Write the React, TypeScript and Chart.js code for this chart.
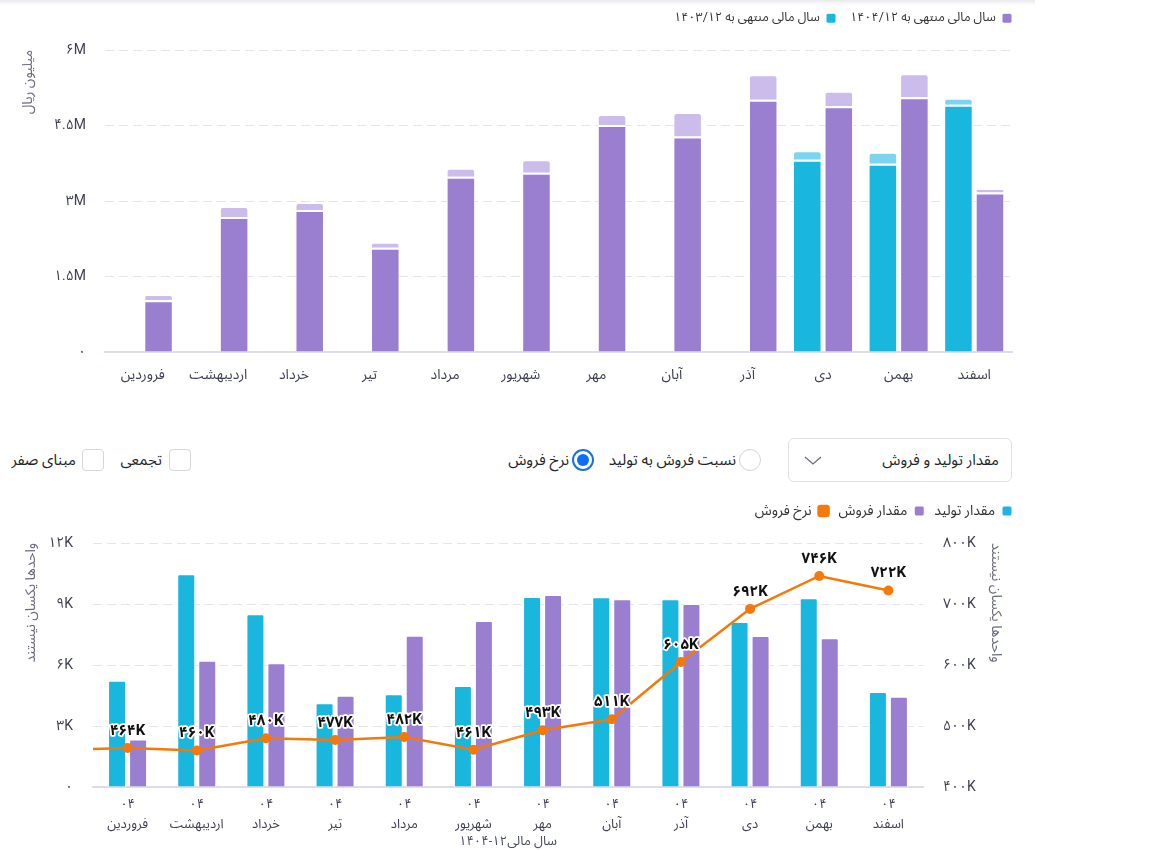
import React, { useEffect, useRef } from 'react';
import { Chart, registerables } from 'chart.js';

Chart.register(...registerables);

// ---------- data ----------
const months = ['فروردین', 'اردیبهشت', 'خرداد', 'تیر', 'مرداد', 'شهریور', 'مهر', 'آبان', 'آذر', 'دی', 'بهمن', 'اسفند'];
const yearTag = '04';

const legend1404 = 'سال مالی منتهی به ۱۴۰۴/۱۲';
const legend1403 = 'سال مالی منتهی به ۱۴۰۳/۱۲';

// top chart (million rials) – lower segment and upper (lighter) segment
const fy1404Main = [1.03e6, 2.68e6, 2.82e6, 2.07e6, 3.48e6, 3.56e6, 4.51e6, 4.28e6, 5.01e6, 4.88e6, 5.06e6, 3.17e6];
const fy1404Extra = [0.1e6, 0.2e6, 0.14e6, 0.1e6, 0.16e6, 0.25e6, 0.2e6, 0.47e6, 0.49e6, 0.29e6, 0.46e6, 0.07e6];
const fy1403Main = [null, null, null, null, null, null, null, null, null, 3.82e6, 3.74e6, 4.91e6];
const fy1403Extra = [null, null, null, null, null, null, null, null, null, 0.17e6, 0.22e6, 0.12e6];

// bottom chart
const productionLabel = 'مقدار تولید';
const salesLabel = 'مقدار فروش';
const rateLabel = 'نرخ فروش';
const production = [5230, 10460, 8490, 4120, 4560, 4970, 9350, 9330, 9230, 8120, 9280, 4670];
const sales = [2330, 6210, 6080, 4490, 7440, 8170, 9440, 9230, 9000, 7430, 7310, 4440];
const rate = [464000, 460000, 480000, 477000, 482000, 461000, 493000, 511000, 605000, 692000, 746000, 722000];

const topAxisTitle = 'میلیون ریال';
const unitsTitle = 'واحدها یکسان نیستند';
const xTitle = 'سال مالی۱۲-۱۴۰۴';

// ---------- styles ----------
const FONT = "Roboto, 'Noto Sans Arabic', 'DejaVu Sans', sans-serif";
const PURPLE = '#9a7fd1';
const PURPLE_LIGHT = '#cbbcec';
const CYAN = '#19b6de';
const CYAN_LIGHT = '#7bd5ee';
const ORANGE = '#f5780a';
const GRID = '#e6e3ef';
const AXIS = '#dedbeb';
const TICK = '#3d3f52';

const faDigits = '۰۱۲۳۴۵۶۷۸۹';
const toFa = (s: string) => s.replace(/\d/g, (d) => faDigits[Number(d)]);
const fmtM = (v: number) => (v === 0 ? '۰' : toFa(String(v / 1e6)) + 'M');
const fmtK = (v: number) => (v === 0 ? '۰' : toFa(String(v / 1000)) + 'K');

Chart.defaults.font.family = FONT;

const legendHeight = (h: number) => ({
  id: 'legendHeight',
  beforeLayout(chart: any) {
    const lg = chart.legend;
    if (lg && !lg._patched) {
      const orig = lg.fit.bind(lg);
      lg.fit = function () {
        orig();
        this.height = h;
      };
      lg._patched = true;
    }
  },
});

const legendShift = (dx: number, dy: number) => ({
  id: 'legendShift',
  afterLayout(chart: any) {
    const lg = chart.legend;
    if (!lg) return;
    lg.left += dx;
    lg.right += dx;
    lg.top += dy;
    lg.bottom += dy;
  },
});

const lineLabels = {
  id: 'lineLabels',
  afterDatasetsDraw(chart: any) {
    const meta = chart.getDatasetMeta(2);
    const ctx = chart.ctx;
    const pts = meta.data;
    if (!pts || !pts.length) return;
    ctx.save();
    // lead-in segment from axis edge to first point
    ctx.strokeStyle = ORANGE;
    ctx.lineWidth = 2.5;
    ctx.beginPath();
    ctx.moveTo(chart.chartArea.left, pts[0].y + 1);
    ctx.lineTo(pts[0].x, pts[0].y);
    ctx.stroke();
    ctx.font = `bold 15px ${FONT}`;
    ctx.textAlign = 'center';
    ctx.textBaseline = 'middle';
    ctx.lineJoin = 'round';
    pts.forEach((pt: any, i: number) => {
      const t = fmtK(rate[i]);
      ctx.lineWidth = 3.5;
      ctx.strokeStyle = '#fff';
      ctx.strokeText(t, pt.x, pt.y - 17);
      ctx.fillStyle = '#111';
      ctx.fillText(t, pt.x, pt.y - 17);
    });
    ctx.restore();
  },
};

function TopChart() {
  const ref = useRef<HTMLCanvasElement>(null);
  useEffect(() => {
    const chart = new Chart(ref.current!, {
      type: 'bar',
      data: {
        labels: months,
        datasets: [
          {
            label: legend1403,
            data: fy1403Main,
            stack: 'a',
            backgroundColor: CYAN,
            borderColor: '#fff',
            borderWidth: { top: 2, left: 1, right: 1, bottom: 0 },
            borderRadius: 0,
          },
          {
            label: legend1403 + ' ',
            data: fy1403Extra,
            stack: 'a',
            backgroundColor: CYAN_LIGHT,
            borderColor: '#fff',
            borderWidth: { top: 1, left: 1, right: 1, bottom: 0 },
            borderRadius: { topLeft: 3, topRight: 3, bottomLeft: 0, bottomRight: 0 },
          },
          {
            label: legend1404,
            data: fy1404Main,
            stack: 'b',
            backgroundColor: PURPLE,
            borderColor: '#fff',
            borderWidth: { top: 2, left: 1, right: 1, bottom: 0 },
            borderRadius: 0,
          },
          {
            label: legend1404 + ' ',
            data: fy1404Extra,
            stack: 'b',
            backgroundColor: PURPLE_LIGHT,
            borderColor: '#fff',
            borderWidth: { top: 1, left: 1, right: 1, bottom: 0 },
            borderRadius: { topLeft: 3, topRight: 3, bottomLeft: 0, bottomRight: 0 },
          },
        ] as any,
      },
      options: {
        animation: false,
        responsive: false,
        devicePixelRatio: 1,
        datasets: { bar: { categoryPercentage: 0.834, barPercentage: 0.905 } } as any,
        layout: { padding: { left: 0, right: 18, top: 0, bottom: 0 } },
        plugins: {
          tooltip: { enabled: false },
          legend: {
            position: 'top',
            align: 'start',
            rtl: true,
            reverse: true,
            labels: {
              filter: (item: any) => item.datasetIndex === 0 || item.datasetIndex === 2,
              boxWidth: 10,
              boxHeight: 10,
              useBorderRadius: true,
              borderRadius: 2,
              padding: 14,
              color: '#333',
              font: { size: 12.5, family: FONT },
            } as any,
          },
        },
        scales: {
          x: {
            stacked: true,
            grid: { display: false },
            border: { color: AXIS, width: 2 },
            ticks: { color: TICK, padding: 7, font: { size: 14, family: FONT } },
            afterFit: (s: any) => {
              s.height = 40;
            },
          },
          y: {
            stacked: true,
            min: 0,
            max: 6e6,
            grid: { color: GRID, drawTicks: false },
            border: { display: false, dash: [9, 5] },
            ticks: {
              stepSize: 1.5e6,
              padding: 19,
              color: TICK,
              font: { size: 14, family: FONT },
              callback: (v: any) => fmtM(Number(v)),
            },
            title: {
              display: true,
              text: topAxisTitle,
              align: 'end',
              color: '#6a6c7e',
              font: { size: 14, family: FONT },
              padding: { top: 20, bottom: 0 },
            },
            afterFit: (s: any) => {
              s.width = 105;
            },
          },
        },
      } as any,
      plugins: [legendHeight(50), legendShift(14, -2)],
    });
    return () => chart.destroy();
  }, []);
  return (
    <canvas
      ref={ref}
      width={1030}
      height={392}
      style={{ position: 'absolute', left: 0, top: 0, width: 1030, height: 392 }}
    />
  );
}

function BottomChart() {
  const ref = useRef<HTMLCanvasElement>(null);
  useEffect(() => {
    const chart = new Chart(ref.current!, {
      type: 'bar',
      data: {
        labels: months.map((m) => [toFa(yearTag), m]),
        datasets: [
          {
            type: 'bar',
            label: productionLabel,
            data: production,
            backgroundColor: CYAN,
            borderColor: '#fff',
            borderWidth: 1,
            borderRadius: 2,
            yAxisID: 'y',
            order: 1,
          },
          {
            type: 'bar',
            label: salesLabel,
            data: sales,
            backgroundColor: PURPLE,
            borderColor: '#fff',
            borderWidth: 1,
            borderRadius: 2,
            yAxisID: 'y',
            order: 1,
          },
          {
            type: 'line',
            label: rateLabel,
            data: rate,
            borderColor: ORANGE,
            backgroundColor: ORANGE,
            borderWidth: 2.5,
            pointRadius: 5,
            pointBackgroundColor: ORANGE,
            pointBorderColor: ORANGE,
            pointBorderWidth: 0,
            tension: 0,
            yAxisID: 'y1',
            order: 0,
          },
        ] as any,
      },
      options: {
        animation: false,
        responsive: false,
        devicePixelRatio: 1,
        datasets: { bar: { categoryPercentage: 0.607, barPercentage: 0.857 } } as any,
        layout: { padding: 0 },
        plugins: {
          tooltip: { enabled: false },
          legend: {
            position: 'top',
            align: 'start',
            rtl: true,
            labels: {
              sort: (a: any, b: any) => a.datasetIndex - b.datasetIndex,
              boxWidth: 10,
              boxHeight: 10,
              useBorderRadius: true,
              borderRadius: 2,
              padding: 10,
              color: '#333',
              font: { size: 14, family: FONT },
            } as any,
          },
        },
        scales: {
          x: {
            grid: { display: false },
            border: { color: AXIS, width: 2 },
            ticks: { color: TICK, padding: 0, font: { size: 13, family: FONT, lineHeight: 1.5 } },
            title: {
              display: true,
              text: xTitle,
              color: '#4a4c60',
              font: { size: 13, family: FONT },
              padding: { top: 0, bottom: 0 },
            },
            afterFit: (s: any) => {
              s.height = 63;
            },
          },
          y: {
            position: 'left',
            min: 0,
            max: 12000,
            grid: { color: GRID, drawTicks: false },
            border: { display: false, dash: [9, 5] },
            ticks: {
              stepSize: 3000,
              padding: 20,
              color: TICK,
              font: { size: 14, family: FONT },
              callback: (v: any) => fmtK(Number(v)),
            },
            title: {
              display: true,
              text: unitsTitle,
              align: 'end',
              color: '#6a6c7e',
              font: { size: 14, family: FONT },
              padding: { top: 23, bottom: 0 },
            },
            afterFit: (s: any) => {
              s.width = 93;
            },
          },
          y1: {
            position: 'right',
            min: 400000,
            max: 800000,
            grid: { display: false, drawTicks: false },
            border: { display: false },
            ticks: {
              stepSize: 100000,
              padding: 20,
              color: TICK,
              font: { size: 14, family: FONT },
              callback: (v: any) => fmtK(Number(v)),
            },
            title: {
              display: true,
              text: unitsTitle,
              align: 'end',
              color: '#6a6c7e',
              font: { size: 14, family: FONT },
              padding: { top: 8, bottom: 0 },
            },
            afterFit: (s: any) => {
              s.width = 89;
            },
          },
        },
      } as any,
      plugins: [legendHeight(48), legendShift(10, -1), lineLabels],
    });
    return () => chart.destroy();
  }, []);
  return (
    <canvas
      ref={ref}
      width={1012}
      height={355}
      style={{ position: 'absolute', left: 0, top: 495, width: 1012, height: 355 }}
    />
  );
}

const textStyle: React.CSSProperties = {
  position: 'absolute',
  top: 449,
  lineHeight: '22px',
  fontSize: 15,
  color: '#212529',
  direction: 'rtl',
  whiteSpace: 'nowrap',
  fontFamily: FONT,
};

function Controls() {
  return (
    <>
      <div
        style={{
          position: 'absolute',
          left: 788,
          top: 438,
          width: 224,
          height: 44,
          border: '1px solid #dfe1e6',
          borderRadius: 6,
          boxSizing: 'border-box',
        }}
      >
        <span style={{ ...textStyle, top: 10, right: 12 }}>مقدار تولید و فروش</span>
        <svg style={{ position: 'absolute', left: 15, top: 17 }} width="18" height="10">
          <polyline points="1,1 9,8 17,1" fill="none" stroke="#6c6f7a" strokeWidth="1.3" />
        </svg>
      </div>
      {/* radio: ratio */}
      <div
        style={{
          position: 'absolute',
          left: 739,
          top: 449,
          width: 22,
          height: 22,
          borderRadius: '50%',
          border: '1px solid #d3d6dc',
          boxSizing: 'border-box',
        }}
      />
      <span style={{ ...textStyle, right: 1152 - 736 }}>نسبت فروش به تولید</span>
      {/* radio: rate (checked) */}
      <div
        style={{
          position: 'absolute',
          left: 572,
          top: 449,
          width: 22,
          height: 22,
          borderRadius: '50%',
          border: '2px solid #1c6fe0',
          boxSizing: 'border-box',
          background: '#fff',
        }}
      >
        <div
          style={{
            position: 'absolute',
            left: 3,
            top: 3,
            width: 12,
            height: 12,
            borderRadius: '50%',
            background: '#0d6efd',
          }}
        />
      </div>
      <span style={{ ...textStyle, right: 1152 - 569 }}>نرخ فروش</span>
      {/* checkbox: cumulative */}
      <div
        style={{
          position: 'absolute',
          left: 169,
          top: 449,
          width: 22,
          height: 22,
          borderRadius: 4,
          border: '1px solid #d3d6dc',
          boxSizing: 'border-box',
        }}
      />
      <span style={{ ...textStyle, right: 1152 - 162 }}>تجمعی</span>
      {/* checkbox: zero-based */}
      <div
        style={{
          position: 'absolute',
          left: 82,
          top: 449,
          width: 22,
          height: 22,
          borderRadius: 4,
          border: '1px solid #d3d6dc',
          boxSizing: 'border-box',
        }}
      />
      <span style={{ ...textStyle, right: 1152 - 76 }}>مبنای صفر</span>
    </>
  );
}

export default function App() {
  useEffect(() => {
    document.body.style.margin = '0';
    document.body.style.overflow = 'hidden';
  }, []);
  return (
    <div
      style={{
        position: 'relative',
        width: 1152,
        height: 850,
        overflow: 'hidden',
        background: '#fff',
        fontFamily: FONT,
      }}
    >
      <div
        style={{
          position: 'absolute',
          left: 0,
          top: 0,
          width: 1035,
          height: 5,
          background: 'linear-gradient(#e9e9ee, rgba(255,255,255,0))',
        }}
      />
      <TopChart />
      <Controls />
      <BottomChart />
    </div>
  );
}
